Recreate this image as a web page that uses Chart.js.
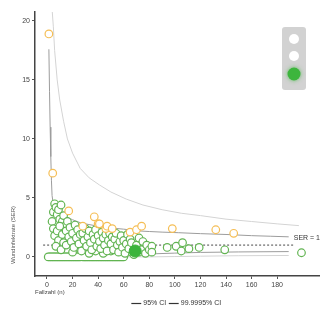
<!DOCTYPE html>
<html>
<head>
<meta charset="utf-8">
<script src="https://cdn.jsdelivr.net/npm/chart.js@4/dist/chart.umd.min.js"></script>
<style>
html,body{margin:0;padding:0;background:#fff;}
#wrap{width:326px;height:324px;position:relative;}
</style>
</head>
<body>
<div id="wrap"><canvas id="c" width="326" height="324"></canvas></div>
<script>
// ---- data ----
const xTicks = [0, 20, 40, 60, 80, 100, 120, 140, 160, 180];
const yTicks = [0, 5, 10, 15, 20];

const ci95N     = [1.5, 2, 2.5, 3, 3.5, 4, 5, 6, 8, 10, 15, 20, 26, 30, 40, 50, 60, 72, 80, 90, 103, 120, 140, 160, 175, 189];
const upper95   = [17.6, 14, 11, 8.5, 6.5, 5.2, 4.4, 4.1, 3.9, 3.75, 3.4, 3.15, 2.9, 2.8, 2.6, 2.45, 2.35, 2.2, 2.15, 2.1, 2.05, 1.97, 1.9, 1.8, 1.75, 1.7];
const lowerN    = [1.5, 20, 40, 60, 80, 100, 120, 150, 189];
const lower95   = [0, 0, 0.1, 0.2, 0.25, 0.32, 0.38, 0.42, 0.45];
const lower999  = [0, 0, 0, 0, 0, 0.03, 0.06, 0.1, 0.12];

const ci999N    = [4, 5, 6, 8, 10, 13, 16, 20, 26, 33, 41, 50, 62, 75, 90, 105, 120, 140, 160, 180, 197];
const upper999  = [21, 19.5, 17.5, 15, 13.3, 11.5, 10, 8.8, 7.5, 6.7, 6.1, 5.5, 4.9, 4.4, 4.0, 3.7, 3.5, 3.2, 3.0, 2.8, 2.65];

const serLineN  = [-3, 193];
const serLineY  = [1, 1];

// hospitals with zero events (n)
const zeroN = [1,2,3,4,5,6,7,8,9,10,11,12,13,14,15,16,17,18,19,20,21,22,23,24,25,26,
  28,29,30,31,32,33,34,35,36,37,38,39,40,41,42,43,44,45,46,47,48,49,50,51,52,53,54,55,56,57,58,59,60];
const zeroY = zeroN.map(() => 0);

// hospitals within limits (n, SER)
const greenN = [20,26,33,38,44,50,57,63,72,76,
  4,5,6,7,8,9,10,11,12,13,14,5,6,8,9,10,12,13,15,16,7,11,15,17,18,19,20,21,22,23,24,25,26,27,28,29,30,31,32,33,34,35,36,37,38,39,40,41,42,43,44,45,46,47,48,49,50,51,52,53,54,55,56,57,58,59,60,61,62,63,64,65,66,68,70,72,74,75,77,78,80,82,82,94,101,105,106,111,119,139,199];
const greenY = [0.4,0.7,0.3,0.5,0.3,0.5,0.7,0.4,0.4,0.8,
  3.0,3.8,4.5,4.2,3.6,4.0,3.2,4.4,3.0,3.5,2.6,2.4,1.8,2.2,1.4,2.6,1.9,1.2,2.2,3.0,0.9,0.6,1.0,1.7,2.5,1.3,2.0,0.8,2.7,1.6,2.3,1.1,1.9,0.5,2.0,1.4,2.4,0.9,1.7,2.2,1.2,0.6,1.9,1.5,2.3,0.9,1.8,1.3,0.7,2.1,1.6,1.0,1.9,0.5,1.4,2.0,1.1,1.7,0.6,1.5,2.0,1.0,0.4,1.3,1.8,0.8,1.4,0.3,1.1,1.9,0.7,1.5,1.2,0.2,1.0,1.6,0.6,1.3,0.3,1.0,0.6,0.9,0.4,0.8,0.9,0.5,1.2,0.7,0.8,0.6,0.35];

// hospitals above 95% limit
const orangeN = [1.5, 4.5, 17, 28, 37, 40, 41, 46, 47, 51, 65, 70, 74, 98, 132, 146];
const orangeY = [18.9, 7.1, 3.9, 2.6, 3.4, 2.8, 2.8, 2.4, 2.6, 2.4, 2.1, 2.3, 2.6, 2.4, 2.3, 2.0];

// highlighted hospital
const focusN = [69];
const focusY = [0.5];

const label95 = '95% CI';
const label999 = '99.9995% CI';
const yTitle = 'Wundinfektrate (SER)';

// ---- build ----
const pts = (xs, ys) => xs.map((x, i) => ({x: x, y: ys[i]}));
const FONT = 'Liberation Sans, Arial, sans-serif';
const GREEN = '#62b452';

const extras = {
  id: 'extras',
  afterDraw(chart) {
    const ctx = chart.ctx;
    const ys = chart.scales.y;
    ctx.save();
    // SER = 1 label
    ctx.font = '7px ' + FONT;
    ctx.fillStyle = '#333';
    ctx.textAlign = 'right';
    ctx.textBaseline = 'bottom';
    ctx.fillText('SER = 1', 320, ys.getPixelForValue(1) - 4);
    // y title
    ctx.save();
    ctx.translate(13, 235);
    ctx.rotate(-Math.PI / 2);
    ctx.font = '6px ' + FONT;
    ctx.fillStyle = '#555';
    ctx.textAlign = 'center';
    ctx.textBaseline = 'middle';
    ctx.fillText(yTitle, 0, 0);
    ctx.restore();
    // traffic light
    ctx.fillStyle = '#d2d2d2';
    const rx = 282, ry = 27, rw = 24, rh = 63, r = 3;
    ctx.beginPath();
    ctx.moveTo(rx + r, ry);
    ctx.arcTo(rx + rw, ry, rx + rw, ry + rh, r);
    ctx.arcTo(rx + rw, ry + rh, rx, ry + rh, r);
    ctx.arcTo(rx, ry + rh, rx, ry, r);
    ctx.arcTo(rx, ry, rx + rw, ry, r);
    ctx.closePath();
    ctx.fill();
    ctx.fillStyle = '#ffffff';
    ctx.beginPath(); ctx.arc(294, 39, 5, 0, Math.PI * 2); ctx.fill();
    ctx.beginPath(); ctx.arc(294, 56, 5, 0, Math.PI * 2); ctx.fill();
    ctx.shadowColor = 'rgba(60,180,60,0.7)';
    ctx.shadowBlur = 4;
    ctx.fillStyle = '#3db53d';
    ctx.beginPath(); ctx.arc(294, 74, 6.5, 0, Math.PI * 2); ctx.fill();
    ctx.restore();
  }
};

new Chart(document.getElementById('c'), {
  type: 'scatter',
  data: {
    datasets: [
      { label: 'focus', data: pts(focusN, focusY), pointRadius: 6, pointBackgroundColor: '#3cb43c', pointBorderColor: '#3cb43c', pointBorderWidth: 1, showLine: false },
      { label: 'orange', data: pts(orangeN, orangeY), pointRadius: 3.8, pointBackgroundColor: '#ffffff', pointBorderColor: '#f5be55', pointBorderWidth: 1.2, showLine: false },
      { label: 'green', data: pts(greenN, greenY), pointRadius: 3.8, pointBackgroundColor: '#ffffff', pointBorderColor: GREEN, pointBorderWidth: 1.2, showLine: false },
      { label: 'zeroFill', data: pts(zeroN, zeroY), pointRadius: 3.2, pointBackgroundColor: '#ffffff', pointBorderWidth: 0, showLine: false },
      { label: 'zeroEdge', data: pts(zeroN, zeroY), pointRadius: 4.4, pointBackgroundColor: GREEN, pointBorderWidth: 0, showLine: false },
      { label: 'ser', data: pts(serLineN, serLineY), showLine: true, pointRadius: 0, borderColor: '#666', borderWidth: 1.2, borderDash: [2, 2] },
      { label: label95, data: pts(ci95N, upper95), showLine: true, pointRadius: 0, borderColor: '#9c9c9c', borderWidth: 1 },
      { label: 'l95', data: pts(lowerN, lower95), showLine: true, pointRadius: 0, borderColor: '#9c9c9c', borderWidth: 1 },
      { label: label999, data: pts(ci999N, upper999), showLine: true, pointRadius: 0, borderColor: '#d4d4d4', borderWidth: 1 },
      { label: 'l999', data: pts(lowerN, lower999), showLine: true, pointRadius: 0, borderColor: '#d4d4d4', borderWidth: 1 }
    ]
  },
  options: {
    responsive: false,
    animation: false,
    devicePixelRatio: 1,
    layout: { padding: { left: 0, right: 6, top: 12, bottom: 7 } },
    plugins: {
      tooltip: { enabled: false },
      legend: {
        position: 'bottom',
        fullSize: false,
        labels: {
          font: { family: FONT, size: 7 },
          color: '#333',
          padding: 4,
          boxWidth: 9,
          boxHeight: 7,
          generateLabels(chart) {
            return [label95, label999].map(t => ({
              text: t, fillStyle: '#333', strokeStyle: '#333', lineWidth: 1.2,
              pointStyle: 'line', hidden: false, fontColor: '#333'
            }));
          },
          usePointStyle: true
        }
      }
    },
    scales: {
      x: {
        type: 'linear',
        min: -9.35,
        max: 212.7,
        afterBuildTicks: s => { s.ticks = xTicks.map(v => ({value: v})); },
        afterFit: s => { s.height = 20; },
        ticks: { font: { family: FONT, size: 7 }, color: '#444', padding: 2, maxRotation: 0, autoSkip: false },
        grid: { drawOnChartArea: false, drawTicks: true, tickLength: 3, color: '#555' },
        border: { display: true, color: '#444', width: 1.5 },
        title: { display: true, text: 'Fallzahl (n)', align: 'start', font: { family: FONT, size: 6 }, color: '#444', padding: { top: 0, bottom: 0 } }
      },
      y: {
        type: 'linear',
        min: -1.62,
        max: 20.76,
        afterBuildTicks: s => { s.ticks = yTicks.map(v => ({value: v})); },
        afterFit: s => { s.width = 35; },
        ticks: { font: { family: FONT, size: 7 }, color: '#444', padding: 2 },
        grid: { drawOnChartArea: false, drawTicks: true, tickLength: 3, color: '#555' },
        border: { display: true, color: '#444', width: 1.5 },
        title: { display: false }
      }
    }
  },
  plugins: [extras]
});
</script>
</body>
</html>
